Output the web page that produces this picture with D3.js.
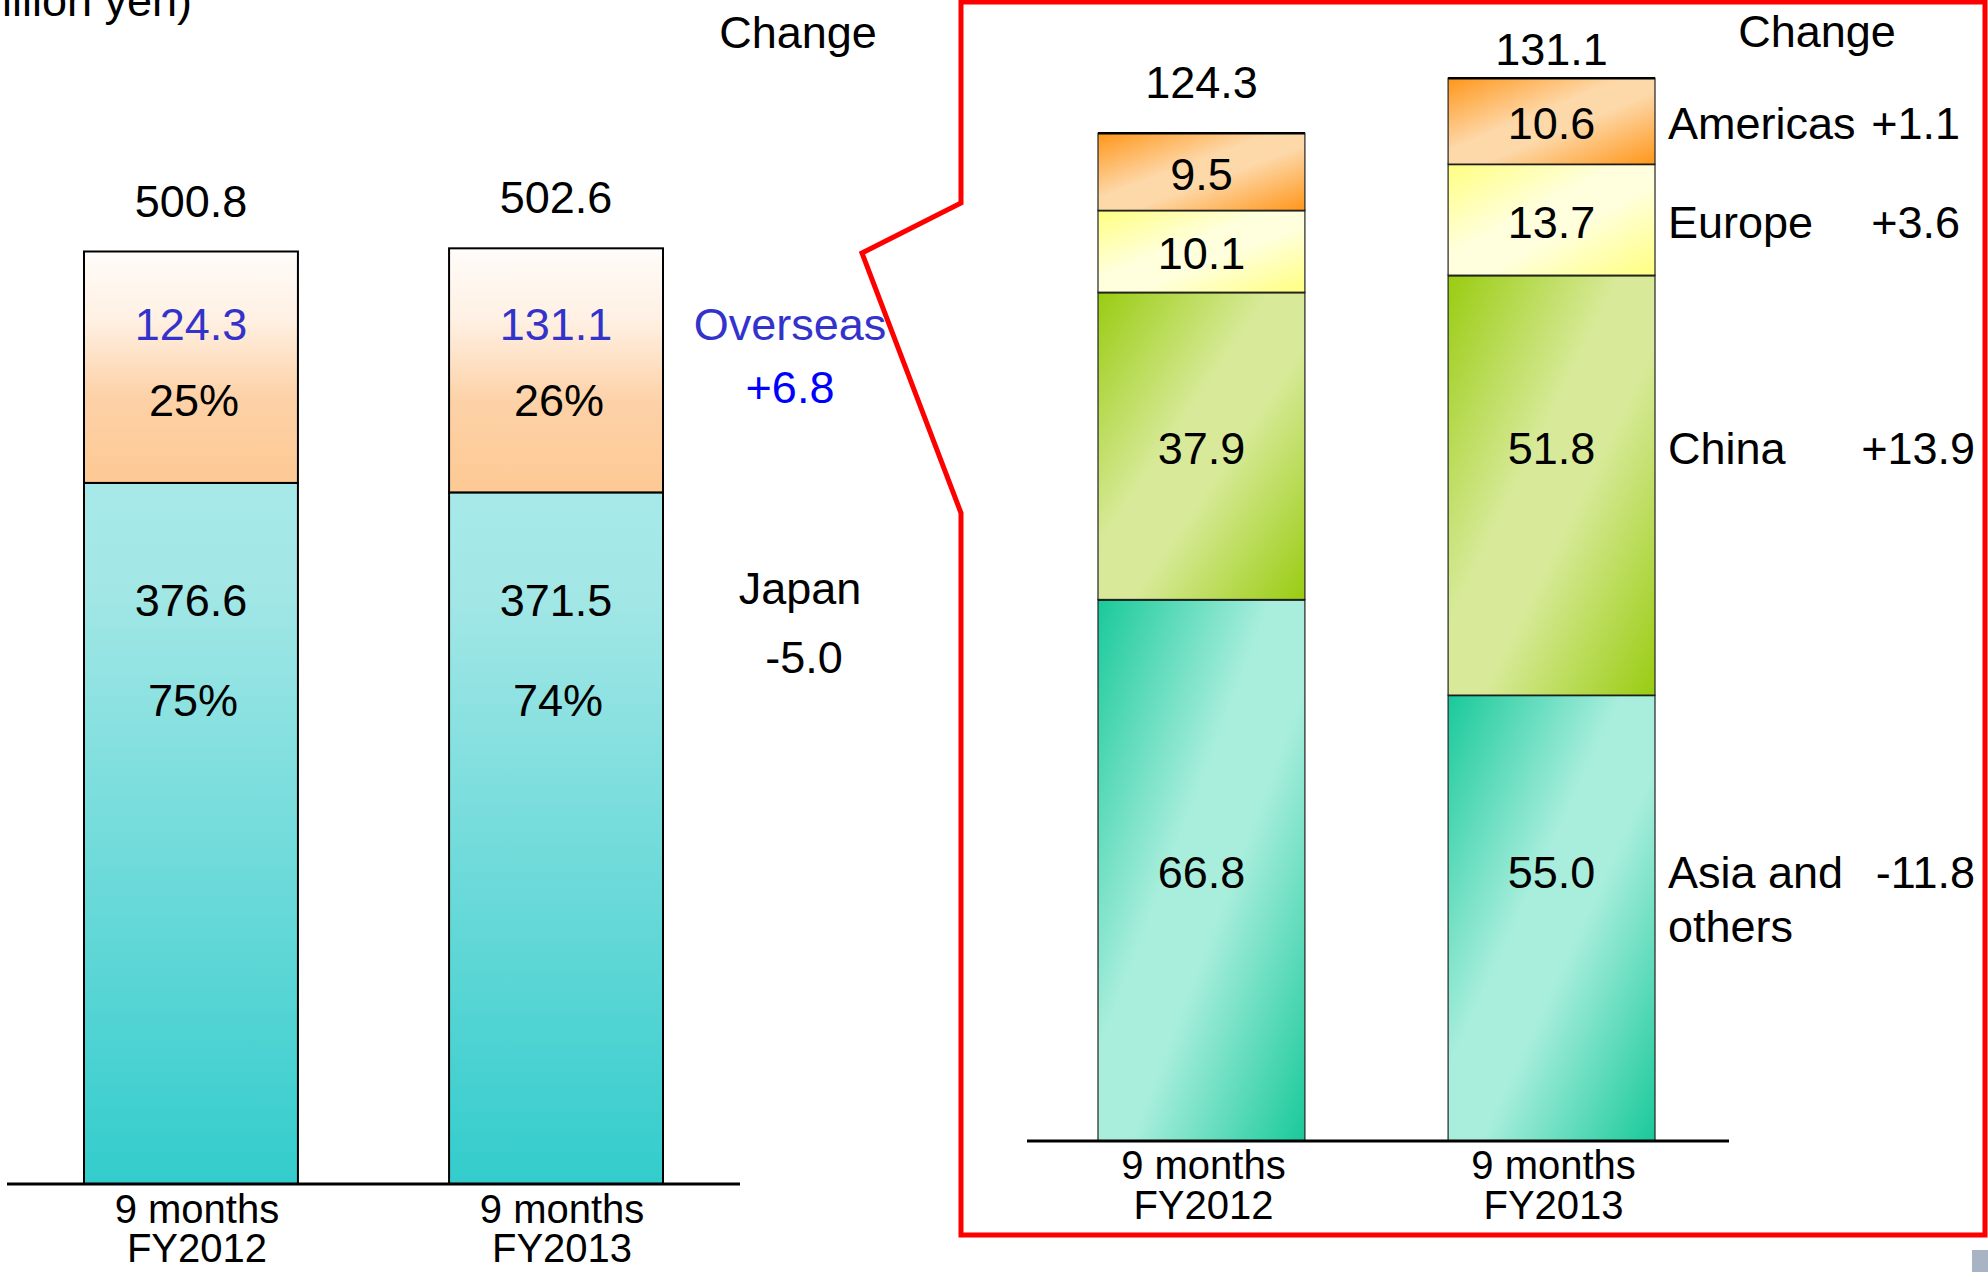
<!DOCTYPE html>
<html>
<head>
<meta charset="utf-8">
<title>Sales by region</title>
<script src="https://cdn.jsdelivr.net/npm/d3@7"></script>
<style>
  html, body { margin: 0; padding: 0; background: #fff; }
  svg { display: block; font-family: "Liberation Sans", Arial, sans-serif; }
</style>
</head>
<body>
<svg id="chart" width="1988" height="1272"></svg>
<script>
// categories
var periods = ['9 months FY2012', '9 months FY2013'];
var periodLines = [['9 months', 'FY2012'], ['9 months', 'FY2013']];

// left chart: Japan / Overseas (billion yen)
var japanSales = [376.6, 371.5];
var overseasSales = [124.3, 131.1];
var totalSales = [500.8, 502.6];
var japanChange = '-5.0';
var overseasChange = '+6.8';

// right chart: overseas breakdown, bottom to top
var regionKeys = ['asia', 'china', 'europe', 'americas'];
var regionNames = [['Asia and', 'others'], ['China'], ['Europe'], ['Americas']];
var asiaSales = [66.8, 55.0];
var chinaSales = [37.9, 51.8];
var europeSales = [10.1, 13.7];
var americasSales = [9.5, 10.6];
var regionChange = ['-11.8', '+13.9', '+3.6', '+1.1'];
var overseasTotals = [124.3, 131.1];

(function() {

	'use strict';

	var svg = d3.select('#chart'),
		defs = svg.append('defs'),
		pct = d3.format('.0%');

	/**
	* vertical and diagonal gradients for the segments
	*/
	var addGradient = function(id, stops, diagonal) {
		var g = defs.append('linearGradient')
			.attr('id', id)
			.attr('x1', 0).attr('y1', 0)
			.attr('x2', diagonal ? 1 : 0).attr('y2', 1);
		stops.forEach(function(s) {
			g.append('stop').attr('offset', s[0]).attr('stop-color', s[1]);
		});
	};

	addGradient('g-japan', [[0, '#a6e9e8'], [0.15, '#a2e7e6'], [1, '#33cccc']]);
	addGradient('g-overseas', [[0, '#fffcfa'], [0.3, '#fff0e2'], [0.62, '#fdd2a8'], [1, '#fdc993']]);

	var diag = function(dark, light) {
		return [[0, dark], [0.42, light], [0.58, light], [1, dark]];
	};
	addGradient('g-asia', diag('#19c99a', '#a9eedd'), true);
	addGradient('g-china', diag('#99cc11', '#d8ea9a'), true);
	addGradient('g-europe', diag('#ffff80', '#ffffde'), true);
	addGradient('g-americas', diag('#ff961a', '#fdd8a8'), true);

	// ---------------- left chart ----------------
	var leftRows = periods.map(function(p, i) {
		return { period: p, japan: japanSales[i], overseas: overseasSales[i] };
	});

	var xL = d3.scaleBand()
			.domain(periods)
			.range([84, 663])
			.paddingInner(0.414),
		yL = d3.scaleLinear()
			.domain([0, 600])
			.range([1184, 67]);

	var stackL = d3.stack().keys(['japan', 'overseas'])(leftRows);

	svg.append('g')
		.selectAll('g')
		.data(stackL)
		.enter()
		.append('g')
		.attr('fill', function(d) { return 'url(#g-' + d.key + ')'; })
		.selectAll('rect')
		.data(function(d) { return d; })
		.enter()
		.append('rect')
		.attr('x', function(d) { return xL(d.data.period); })
		.attr('y', function(d) { return yL(d[1]); })
		.attr('width', xL.bandwidth())
		.attr('height', function(d) { return yL(d[0]) - yL(d[1]); })
		.attr('stroke', '#000')
		.attr('stroke-width', 2);

	// axis line
	svg.append('line')
		.attr('x1', 7).attr('x2', 740)
		.attr('y1', yL(0)).attr('y2', yL(0))
		.attr('stroke', '#000').attr('stroke-width', 3);

	var textL = svg.append('g').attr('font-size', 45).attr('text-anchor', 'middle');
	var overseasRow = yL(d3.max(totalSales)) + 92,
		japanRow = yL(d3.max(japanSales)) + 133;

	periods.forEach(function(p, i) {
		var cx = xL(p) + xL.bandwidth() / 2;
		textL.append('text').attr('x', cx).attr('y', yL(totalSales[i]) - 35).text(totalSales[i].toFixed(1));
		textL.append('text').attr('x', cx).attr('y', overseasRow).attr('fill', '#3333cc').text(overseasSales[i].toFixed(1));
		textL.append('text').attr('x', cx + 3).attr('y', overseasRow + 76).text(pct(overseasSales[i] / totalSales[i]));
		textL.append('text').attr('x', cx).attr('y', japanRow).text(japanSales[i].toFixed(1));
		textL.append('text').attr('x', cx + 2).attr('y', japanRow + 100).text(pct(japanSales[i] / totalSales[i]));

		var lbl = svg.append('text')
			.attr('text-anchor', 'middle')
			.attr('font-size', 40)
			.attr('x', cx + 6)
			.attr('y', yL(0) + 39);
		periodLines[i].forEach(function(t, j) {
			lbl.append('tspan').attr('x', cx + 6).attr('dy', j ? 39 : 0).text(t);
		});
	});

	// change column
	textL.append('text').attr('x', 798).attr('y', 48).text('Change');
	textL.append('text').attr('x', 790).attr('y', overseasRow).attr('fill', '#3333cc').text('Overseas');
	textL.append('text').attr('x', 790).attr('y', overseasRow + 63).attr('fill', '#0000ff').text(overseasChange);
	textL.append('text').attr('x', 800).attr('y', japanRow - 12).text('Japan');
	textL.append('text').attr('x', 804).attr('y', japanRow + 57).text(japanChange);

	// unit label, cut by the top edge
	svg.append('text')
		.attr('x', 192).attr('y', 16)
		.attr('text-anchor', 'end')
		.attr('font-size', 45)
		.text('(Billion yen)');

	// ---------------- zoom frame ----------------
	svg.append('path')
		.attr('d', 'M961,2 L961,203 L862,253 L961,513 L961,1235 L1985,1235 L1985,2 Z')
		.attr('fill', 'none')
		.attr('stroke', '#ff0000')
		.attr('stroke-width', 5)
		.attr('stroke-linejoin', 'miter');

	// ---------------- right chart ----------------
	var rightRows = periods.map(function(p, i) {
		return {
			period: p,
			asia: asiaSales[i],
			china: chinaSales[i],
			europe: europeSales[i],
			americas: americasSales[i]
		};
	});

	var xR = d3.scaleBand()
			.domain(periods)
			.range([1098, 1655])
			.paddingInner(0.409),
		yR = d3.scaleLinear()
			.domain([0, 140])
			.range([1141, 6]);

	var stackR = d3.stack().keys(regionKeys)(rightRows);

	var layers = svg.append('g')
		.selectAll('g')
		.data(stackR)
		.enter()
		.append('g');

	layers.selectAll('rect')
		.data(function(d) { return d; })
		.enter()
		.append('rect')
		.attr('x', function(d) { return xR(d.data.period); })
		.attr('y', function(d) { return yR(d[1]); })
		.attr('width', xR.bandwidth())
		.attr('height', function(d) { return yR(d[0]) - yR(d[1]); })
		.attr('fill', function() { return 'url(#g-' + d3.select(this.parentNode).datum().key + ')'; })
		.attr('stroke', '#222')
		.attr('stroke-width', 1.2);

	// darker separators on top of each segment
	layers.selectAll('line')
		.data(function(d) { return d; })
		.enter()
		.append('line')
		.attr('x1', function(d) { return xR(d.data.period); })
		.attr('x2', function(d) { return xR(d.data.period) + xR.bandwidth(); })
		.attr('y1', function(d) { return yR(d[1]); })
		.attr('y2', function(d) { return yR(d[1]); })
		.attr('stroke', '#000')
		.attr('stroke-width', 2.5);

	svg.append('line')
		.attr('x1', 1027).attr('x2', 1729)
		.attr('y1', yR(0)).attr('y2', yR(0))
		.attr('stroke', '#000').attr('stroke-width', 3);

	var textR = svg.append('g').attr('font-size', 45);

	// label rows: tall segments in both bars share the higher row
	var rows = stackR.map(function(layer) {
		var c = layer.map(function(d) { return (yR(d[0]) + yR(d[1])) / 2; }),
			h = layer.map(function(d) { return yR(d[0]) - yR(d[1]); }),
			shared = d3.min(h) > 200;
		return layer.map(function(d, i) { return shared ? d3.min(c) : c[i]; });
	});

	stackR.forEach(function(layer, k) {
		layer.forEach(function(d, i) {
			textR.append('text')
				.attr('text-anchor', 'middle')
				.attr('x', xR(d.data.period) + xR.bandwidth() / 2)
				.attr('y', rows[k][i])
				.attr('dy', '0.4em')
				.text((d[1] - d[0]).toFixed(1));
		});

		var name = textR.append('text')
			.attr('x', 1668)
			.attr('y', rows[k][1]);
		regionNames[k].forEach(function(t, j) {
			name.append('tspan').attr('x', 1668).attr('dy', j ? 54 : '0.4em').text(t);
		});
		textR.append('text')
			.attr('text-anchor', 'end')
			.attr('x', k < 2 ? 1975 : 1960)
			.attr('y', rows[k][1])
			.attr('dy', '0.4em')
			.text(regionChange[k]);
	});

	var topLimit = 65;
	periods.forEach(function(p, i) {
		var cx = xR(p) + xR.bandwidth() / 2;
		textR.append('text')
			.attr('text-anchor', 'middle')
			.attr('x', cx)
			.attr('y', Math.max(yR(overseasTotals[i]) - 35, topLimit))
			.text(overseasTotals[i].toFixed(1));

		var lbl = svg.append('text')
			.attr('text-anchor', 'middle')
			.attr('font-size', 40)
			.attr('x', cx + 2)
			.attr('y', yR(0) + 38);
		periodLines[i].forEach(function(t, j) {
			lbl.append('tspan').attr('x', cx + 2).attr('dy', j ? 40 : 0).text(t);
		});
	});

	textR.append('text').attr('text-anchor', 'middle').attr('x', 1817).attr('y', 47).text('Change');

	// slide corner mark
	svg.append('rect')
		.attr('x', 1972).attr('y', 1250)
		.attr('width', 16).attr('height', 22)
		.attr('fill', '#a8b4c3');

})();
</script>
</body>
</html>
